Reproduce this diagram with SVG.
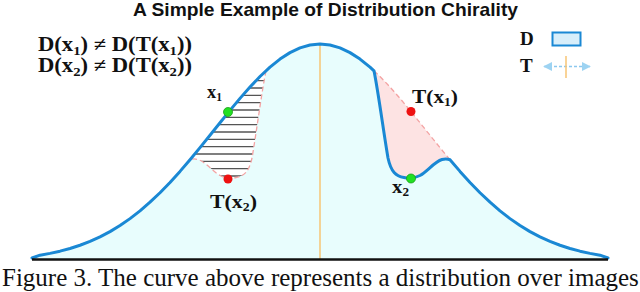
<svg xmlns="http://www.w3.org/2000/svg" width="640" height="292" viewBox="0 0 640 292">
<style>
.blue{fill:none;stroke:#1a88d4;stroke-width:3;stroke-linejoin:round;stroke-linecap:round}
.dash{fill:none;stroke:#f4a3a3;stroke-width:1.3;stroke-dasharray:5 3}
.hatch{stroke:#555;stroke-width:1.3}
.m{font-family:"Liberation Serif","DejaVu Serif",serif;font-weight:bold;fill:#111}
.title{font-family:"Liberation Sans",Arial,sans-serif;font-weight:bold;font-size:18.5px;fill:#111}
.cap{font-family:"Liberation Serif","Times New Roman",serif;font-size:25px;fill:#111}
</style>
<defs>
<clipPath id="hclip">
<path d="M266,70.9 C262,90 256,135 252,158 C249,172 244,176 236,177.5 C230,179 226,178.5 220,175.5 C212,171 206,162 198,159.5 C194,158.5 192,159 190,159.76 L200,147.66 L210,135.26 L220,122.76 L230,110.39 L240,98.38 L250,87 L260,76.51 Z"/>
</clipPath>
<marker id="ah" viewBox="0 0 10 10" refX="9" refY="5" markerWidth="9" markerHeight="10" markerUnits="userSpaceOnUse" orient="auto-start-reverse">
<path d="M0,0 L10,5 L0,10 Z" fill="#9dd3f2"/>
</marker>
</defs>
<rect width="640" height="292" fill="#fff"/>
<text class="title" x="133" y="16" textLength="385" lengthAdjust="spacingAndGlyphs">A Simple Example of Distribution Chirality</text>
<g id="distribution">
<path fill="#e8fdfd" d="M32,259 L32,258 L40,255.19 L50,253.38 L60,251.17 L70,248.48 L80,245.25 L90,241.4 L100,236.87 L110,231.6 L120,225.54 L130,218.62 L140,210.85 L150,202.21 L160,192.72 L170,182.42 L180,171.39 L190,159.76 L200,147.66 L210,135.26 L220,122.76 L230,110.39 L240,98.38 L250,87 L260,76.51 L270,67.13 L280,59.1 L290,52.63 L300,47.89 L310,44.99 L320,44 L330,44.99 L340,47.89 L350,52.63 L360,59.1 L370,67.13 L374,70.9 C378,90 384,135 388,158 C391,172 396,176 404,177.5 C410,179 414,178.5 420,175.5 C428,171 434,162 442,159.5 C446,158.5 448,159 450,159.76 L460,171.39 L470,182.42 L480,192.72 L490,202.21 L500,210.85 L510,218.62 L520,225.54 L530,231.6 L540,236.87 L550,241.4 L560,245.25 L570,248.48 L580,251.17 L590,253.38 L600,255.19 L608,258 L608,259 Z"/>
<path fill="#fde3e3" d="M374,70.9 C378,90 384,135 388,158 C391,172 396,176 404,177.5 C410,179 414,178.5 420,175.5 C428,171 434,162 442,159.5 C446,158.5 448,159 450,159.76 L440,147.66 L430,135.26 L420,122.76 L410,110.39 L400,98.38 L390,87 L380,76.51 Z"/>
<g id="hatched" clip-path="url(#hclip)">
<rect x="185" y="65" width="85" height="120" fill="#fff"/>
<path class="hatch" d="M185,73.4H270M185,80.7H270M185,88H270M185,95.4H270M185,102.7H270M185,110H270M185,117.4H270M185,124.7H270M185,132H270M185,139.4H270M185,146.7H270M185,154H270M185,161.4H270M185,168.7H270M185,176H270"/>
</g>
<path class="dash" d="M374,70.9 L380,76.51 L390,87 L400,98.38 L410,110.39 L420,122.76 L430,135.26 L440,147.66 L450,159.76"/>
<path class="dash" d="M266,70.9 C262,90 256,135 252,158 C249,172 244,176 236,177.5 C230,179 226,178.5 220,175.5 C212,171 206,162 198,159.5 C194,158.5 192,159 190,159.76"/>
<line x1="320" y1="45" x2="320" y2="259" stroke="#f7c574" stroke-width="1.5"/>
<path class="blue" d="M32,258 L40,255.19 L50,253.38 L60,251.17 L70,248.48 L80,245.25 L90,241.4 L100,236.87 L110,231.6 L120,225.54 L130,218.62 L140,210.85 L150,202.21 L160,192.72 L170,182.42 L180,171.39 L190,159.76 L200,147.66 L210,135.26 L220,122.76 L230,110.39 L240,98.38 L250,87 L260,76.51 L270,67.13 L280,59.1 L290,52.63 L300,47.89 L310,44.99 L320,44 L330,44.99 L340,47.89 L350,52.63 L360,59.1 L370,67.13 L374,70.9 C378,90 384,135 388,158 C391,172 396,176 404,177.5 C410,179 414,178.5 420,175.5 C428,171 434,162 442,159.5 C446,158.5 448,159 450,159.76 L460,171.39 L470,182.42 L480,192.72 L490,202.21 L500,210.85 L510,218.62 L520,225.54 L530,231.6 L540,236.87 L550,241.4 L560,245.25 L570,248.48 L580,251.17 L590,253.38 L600,255.19 L608,258"/>
<line x1="32" y1="259.5" x2="608" y2="259.5" stroke="#111" stroke-width="2.5"/>
</g>
<g id="points">
<circle cx="228" cy="112" r="4.5" fill="#22e022" stroke="#18a018" stroke-width="0.8"/>
<circle cx="411" cy="178.5" r="4.5" fill="#22e022" stroke="#18a018" stroke-width="0.8"/>
<circle cx="411" cy="111.5" r="4.5" fill="#ee1111"/>
<circle cx="228" cy="179" r="4.5" fill="#ee1111"/>
</g>
<g id="labels">
<text class="m" x="207" y="98" font-size="19" textLength="15" lengthAdjust="spacingAndGlyphs">x<tspan dy="3" font-size="12">1</tspan></text>
<text class="m" x="412" y="103" font-size="19" textLength="46" lengthAdjust="spacingAndGlyphs">T(x<tspan dy="3" font-size="12">1</tspan><tspan dy="-3">)</tspan></text>
<text class="m" x="210" y="208" font-size="19" textLength="47" lengthAdjust="spacingAndGlyphs">T(x<tspan dy="3" font-size="12">2</tspan><tspan dy="-3">)</tspan></text>
<text class="m" x="392" y="193" font-size="19" textLength="17" lengthAdjust="spacingAndGlyphs">x<tspan dy="3" font-size="12">2</tspan></text>
</g>
<g id="equations">
<text class="m" x="38" y="51" font-size="20" textLength="154" lengthAdjust="spacingAndGlyphs">D(x<tspan dy="3.5" font-size="13">1</tspan><tspan dy="-3.5">) ≠ D(T(x</tspan><tspan dy="3.5" font-size="13">1</tspan><tspan dy="-3.5">))</tspan></text>
<text class="m" x="38" y="72" font-size="20" textLength="154" lengthAdjust="spacingAndGlyphs">D(x<tspan dy="3.5" font-size="13">2</tspan><tspan dy="-3.5">) ≠ D(T(x</tspan><tspan dy="3.5" font-size="13">2</tspan><tspan dy="-3.5">))</tspan></text>
</g>
<g id="legend">
<text class="m" x="520" y="45" font-size="19">D</text>
<rect x="552.5" y="32.5" width="28" height="13" fill="#d8eefa" stroke="#1a88d4" stroke-width="2"/>
<text class="m" x="520" y="72" font-size="19">T</text>
<line x1="544" y1="66.5" x2="590" y2="66.5" stroke="#8cc8ee" stroke-width="1.5" stroke-dasharray="3 2" marker-start="url(#ah)" marker-end="url(#ah)"/>
<line x1="566" y1="56" x2="566" y2="78" stroke="#f7c574" stroke-width="1.5"/>
</g>
<text class="cap" x="2" y="286">Figure 3. The curve above represents a distribution over images</text>
</svg>
